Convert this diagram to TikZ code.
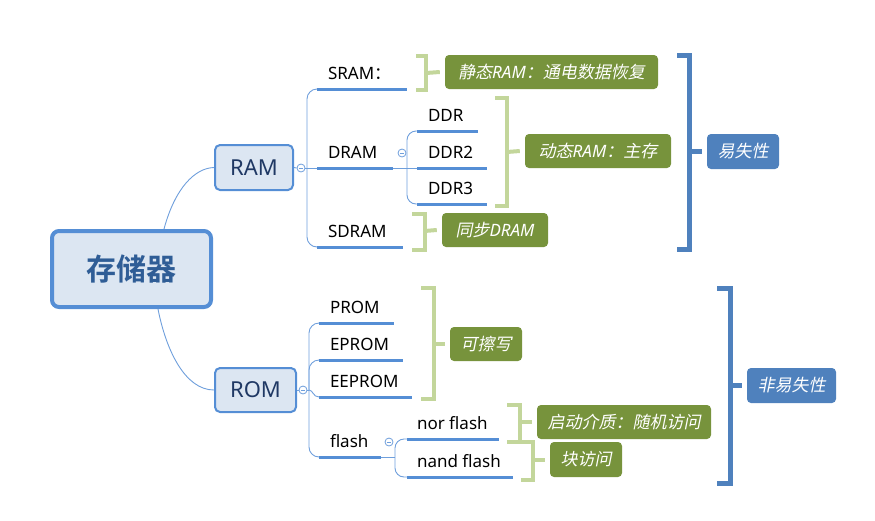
\documentclass[tikz,border=0pt]{standalone}
\usepackage{fontspec}
\setmainfont{Noto Sans}
\newfontfamily\cjk{Noto Sans CJK SC}
\newfontfamily\cjkit[FakeSlant=0.2]{Noto Sans CJK SC}
\newfontfamily\cjkbf{Noto Sans CJK SC Bold}
\definecolor{lineblue}{HTML}{558ED5}
\definecolor{thinblue}{HTML}{6F9FDC}
\definecolor{boxfill}{HTML}{DCE6F2}
\definecolor{navy}{HTML}{1F3864}
\definecolor{roottext}{HTML}{2F5D96}
\definecolor{olive}{HTML}{77933C}
\definecolor{lgreen}{HTML}{C3D69B}
\definecolor{bblue}{HTML}{4F81BD}
\begin{document}
\begin{tikzpicture}[x=1pt,y=-1pt,
  rootbox/.style={draw=lineblue, line width=4pt, fill=boxfill, rounded corners=7pt,
    minimum width=159pt, minimum height=76pt, inner sep=0pt,
    font=\cjkbf\fontsize{30}{36}\selectfont, text=roottext},
  mainbox/.style={draw=lineblue, line width=2pt, fill=boxfill, rounded corners=5pt,
    inner sep=0pt, minimum height=45pt, font=\fontsize{22}{26}\selectfont, text=navy},
  uline/.style={draw=lineblue, line width=3pt},
  topic/.style={anchor=south west, inner xsep=11pt, inner ysep=6pt, outer sep=0pt,
    text height=13pt, text depth=4pt, font=\fontsize{17}{20}\selectfont, text=black},
  conn/.style={draw=thinblue, line width=0.9pt},
  fold/.style={circle, draw=thinblue, fill=white, line width=0.8pt, minimum size=8pt, inner sep=0pt,
    path picture={\draw[thinblue, line width=0.8pt]
      ([xshift=-2.2pt]path picture bounding box.center) -- ([xshift=2.2pt]path picture bounding box.center);}},
  gbr/.style={draw=lgreen, line width=4pt},
  bbr/.style={draw=bblue, line width=5pt},
  glabel/.style={fill=olive, rounded corners=4pt, text=white,
    font=\itshape\fontsize{17}{20}\selectfont, minimum height=34pt, inner sep=0pt},
  blabel/.style={glabel, fill=bblue}
]
\useasboundingbox (0,0) rectangle (875,520);

% main nodes
\node[rootbox] (root) at (131.5,269) {存储器};
\node[mainbox, minimum width=78pt] (ram) at (254,167.5) {RAM};
\node[mainbox, minimum width=81pt, minimum height=44pt] (rom) at (255.5,390) {ROM};

% fold buttons
\node[fold] (f1) at (301,168) {};
\node[fold] (f2) at (402,153) {};
\node[fold] (f3) at (303,390) {};
\node[fold] (f4) at (389,442) {};

% topics
\node[topic] (sram) at (317,89) {\makebox[68pt][l]{SRAM{\cjk ：}}};
\node[topic] (dram) at (317,168) {\makebox[54pt][l]{DRAM}};
\node[topic] (sdram) at (317,247) {\makebox[64pt][l]{SDRAM}};
\node[topic] (ddr) at (417,131) {\makebox[39pt][l]{DDR}};
\node[topic] (ddr2) at (417,168) {\makebox[48pt][l]{DDR2}};
\node[topic] (ddr3) at (417,204) {\makebox[48pt][l]{DDR3}};
\node[topic] (prom) at (319,323) {\makebox[53pt][l]{PROM}};
\node[topic] (eprom) at (319,360) {\makebox[62pt][l]{EPROM}};
\node[topic] (eeprom) at (319,397) {\makebox[71pt][l]{EEPROM}};
\node[topic] (flash) at (319,457) {\makebox[40pt][l]{flash}};
\node[topic, inner xsep=10pt] (nor) at (407,439) {\makebox[72pt][l]{nor flash}};
\node[topic, inner xsep=10pt] (nand) at (407,477) {\makebox[86pt][l]{nand flash}};

% connectors
\draw[conn] ([xshift=32.5pt]root.north) .. controls (175,188) and (195,168) .. (ram.west);
\draw[conn] ([xshift=26.5pt]root.south) .. controls (166,350) and (185,390) .. (rom.west);

\coordinate (b1) at (307,168);
\draw[conn] (ram.east) -- (f1.west);
\draw[conn] (f1.east) -- (b1);
\draw[conn, rounded corners=10pt] (b1) |- (sram.south west);
\draw[conn] (b1) -- (dram.south west);
\draw[conn, rounded corners=10pt] (b1) |- (sdram.south west);

\coordinate (b2) at (407,168);
\draw[conn] (dram.south east) -- (b2);
\draw[conn, rounded corners=9pt] (b2) |- (ddr.south west);
\draw[conn] (b2) -- (ddr2.south west);
\draw[conn, rounded corners=9pt] (b2) |- (ddr3.south west);

\coordinate (b3) at (309,390);
\draw[conn] (rom.east) -- (f3.west);
\draw[conn] (f3.east) -- (b3);
\draw[conn, rounded corners=10pt] (b3) |- (prom.south west);
\draw[conn, rounded corners=10pt] (b3) |- (eprom.south west);
\draw[conn] (b3) .. controls (313,390) and (313,397) .. (eeprom.south west);
\draw[conn, rounded corners=10pt] (b3) |- (flash.south west);

\coordinate (b4) at (395,457);
\draw[conn] (flash.south east) -- (b4);
\draw[conn, rounded corners=9pt] (b4) |- (nor.south west);
\draw[conn, rounded corners=9pt] (b4) |- (nand.south west);

% underlines of the topics
\foreach \tp in {sram,dram,sdram,ddr,ddr2,ddr3,prom,eprom,eeprom,flash,nor,nand}
  \draw[uline] (\tp.south west) -- (\tp.south east);

% summary labels
\node[glabel, minimum width=213pt] (g1) at (551.5,72) {{\cjkit 静态}RAM{\cjkit ：通电数据恢复}};
\node[glabel, minimum width=146pt] (g2) at (598,151) {{\cjkit 动态}RAM{\cjkit ：主存}};
\node[glabel, minimum width=106pt] (g3) at (495,230) {{\cjkit 同步}DRAM};
\node[blabel, minimum width=72pt, minimum height=35pt] (v1) at (743,151.5) {{\cjkit 易失性}};
\node[glabel, minimum width=72pt] (g4) at (486,344) {{\cjkit 可擦写}};
\node[glabel, minimum width=174pt] (g5) at (624,422) {{\cjkit 启动介质：随机访问}};
\node[glabel, minimum width=72pt, minimum height=35pt] (g6) at (586,459.5) {{\cjkit 块访问}};
\node[blabel, minimum width=89pt, minimum height=35pt] (v2) at (791.5,385.5) {{\cjkit 非易失性}};

% brackets
\draw[gbr] (416,56) -- (426,56) -- (426,90) -- (416,90);
\draw[gbr] (426,73) -- ([xshift=-5pt]g1.west);
\draw[gbr] (495,98) -- (507,98) -- (507,206) -- (495,206);
\draw[gbr] (507,152) -- ([xshift=-5pt]g2.west);
\draw[gbr] (412,214) -- (424.5,214) -- (424.5,249.5) -- (412,249.5);
\draw[gbr] (424.5,231) -- ([xshift=-5pt]g3.west);
\draw[bbr] (677,55) -- (689.5,55) -- (689.5,249) -- (677,249);
\draw[bbr] (689.5,151.5) -- ([xshift=-5pt]v1.west);

\draw[gbr] (421,288) -- (434,288) -- (434,399) -- (421,399);
\draw[gbr] (434,344) -- ([xshift=-5pt]g4.west);
\draw[gbr] (507,405) -- (520,405) -- (520,442) -- (507,442);
\draw[gbr] (520,422) -- ([xshift=-5pt]g5.west);
\draw[gbr] (520,442) -- (533,442) -- (533,479.5) -- (521,479.5);
\draw[gbr] (533,459.5) -- ([xshift=-5pt]g6.west);
\draw[bbr] (717,288.5) -- (730,288.5) -- (730,483) -- (717,483);
\draw[bbr] (730,385.5) -- ([xshift=-5pt]v2.west);
\end{tikzpicture}
\end{document}
